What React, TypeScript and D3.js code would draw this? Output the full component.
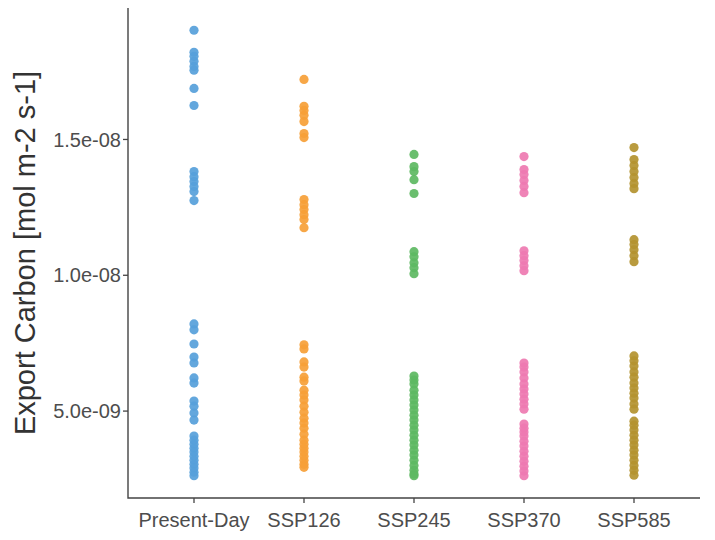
import React from 'react';
import * as d3 from 'd3';

// scenario names on the x axis
const categories = ['Present-Day', 'SSP126', 'SSP245', 'SSP370', 'SSP585'];
const colors = ['#56A0DA', '#F6A037', '#5DB862', '#EE79B1', '#B3922F'];

// export carbon values, in units of 1e-9 mol m-2 s-1
const presentDay = [
  19.02, 18.21, 18.06, 17.88, 17.69, 17.55, 16.88, 16.25,
  13.82, 13.63, 13.45, 13.27, 13.08, 12.75,
  8.21, 7.99, 7.47, 6.99, 6.77, 6.22, 6.03, 5.37, 5.18, 4.93, 4.67,
  4.08, 3.93, 3.78, 3.63, 3.49, 3.34, 3.19, 3.04, 2.90, 2.75, 2.62,
];
const ssp126 = [
  17.21, 16.22, 16.07, 15.89, 15.66, 15.22, 15.07,
  12.79, 12.6, 12.42, 12.23, 12.05, 11.75,
  7.44, 7.29, 6.81, 6.62, 6.25, 6.11, 5.77, 5.59, 5.41, 5.18, 4.96, 4.74,
  4.56, 4.37, 4.15, 3.93, 3.78, 3.63, 3.49, 3.34, 3.19, 3.04, 2.93,
];
const ssp245 = [
  14.45, 14.0, 13.82, 13.52, 13.01,
  10.87, 10.68, 10.46, 10.28, 10.06,
  6.29, 6.14, 6.0, 5.77, 5.59, 5.41, 5.22, 5.04, 4.85, 4.67, 4.48,
  4.3, 4.11, 3.93, 3.75, 3.56, 3.38, 3.19, 3.0, 2.82, 2.68, 2.62,
];
const ssp370 = [
  14.37, 13.89, 13.71, 13.49, 13.27, 13.04,
  10.9, 10.72, 10.54, 10.35, 10.17,
  6.77, 6.62, 6.44, 6.22, 6.0, 5.81, 5.63, 5.44, 5.26, 5.07,
  4.52, 4.37, 4.23, 4.08, 3.89, 3.71, 3.52, 3.34, 3.15, 2.97, 2.79, 2.62,
];
const ssp585 = [
  14.7, 14.26, 14.04, 13.82, 13.6, 13.38, 13.19,
  11.31, 11.13, 10.94, 10.72, 10.5,
  7.03, 6.85, 6.66, 6.44, 6.25, 6.03, 5.85, 5.66, 5.48, 5.26, 5.07,
  4.63, 4.48, 4.3, 4.11, 3.93, 3.75, 3.56, 3.38, 3.19, 3.0, 2.82, 2.64,
];
const series = [presentDay, ssp126, ssp245, ssp370, ssp585];
const unit = 1e-9;

const yTickValues = [5e-9, 1e-8, 1.5e-8];
const yTickLabels = ['5.0e-09', '1.0e-08', '1.5e-08'];

const width = 715;
const height = 540;
const left = 128;
const right = 700;
const top = 8;
const bottom = 498;
const font = '"Liberation Sans", Arial, sans-serif';

export default function App() {
  const all = series.flat().map(v => v * unit);
  const [lo, hi] = d3.extent(all) as [number, number];
  const pad = (hi - lo) * 0.05;
  const y = d3.scaleLinear().domain([lo - pad, hi + pad]).range([bottom, top]);

  // ggplot-style discrete axis: 0.6 units of padding on each side
  const x = d3.scaleLinear().domain([0.4, categories.length + 0.6]).range([left, right]);

  return (
    <svg width={width} height={height} style={{position: 'absolute', left: 0, top: 0}}
         fontFamily={font}>
      <rect width={width} height={height} fill="#fff"/>

      {series.map((vals, i) => (
        <g key={categories[i]} fill={colors[i]} fillOpacity={0.92}>
          {vals.map((v, j) => (
            <circle key={j} cx={x(i + 1)} cy={y(v * unit)} r={4.6}/>
          ))}
        </g>
      ))}

      {/* axes */}
      <path d={`M${left},${top}V${bottom}H${right}`} fill="none" stroke="#444" strokeWidth={1.4}/>

      {yTickValues.map((t, i) => (
        <g key={t} transform={`translate(${left},${y(t)})`}>
          <line x1={-5} x2={0} stroke="#444" strokeWidth={1.3}/>
          <text x={-7} dy="0.36em" textAnchor="end" fontSize={20} fill="#4d4d4d">{yTickLabels[i]}</text>
        </g>
      ))}

      {categories.map((c, i) => (
        <g key={c} transform={`translate(${x(i + 1)},${bottom})`}>
          <line y1={0} y2={5} stroke="#444" strokeWidth={1.3}/>
          <text y={29} textAnchor="middle" fontSize={20} fill="#4d4d4d">{c}</text>
        </g>
      ))}

      <text transform={`translate(35,${(top + bottom) / 2}) rotate(-90)`} textAnchor="middle"
            fontSize={29} fill="#333">Export Carbon [mol m-2 s-1]</text>
    </svg>
  );
}
